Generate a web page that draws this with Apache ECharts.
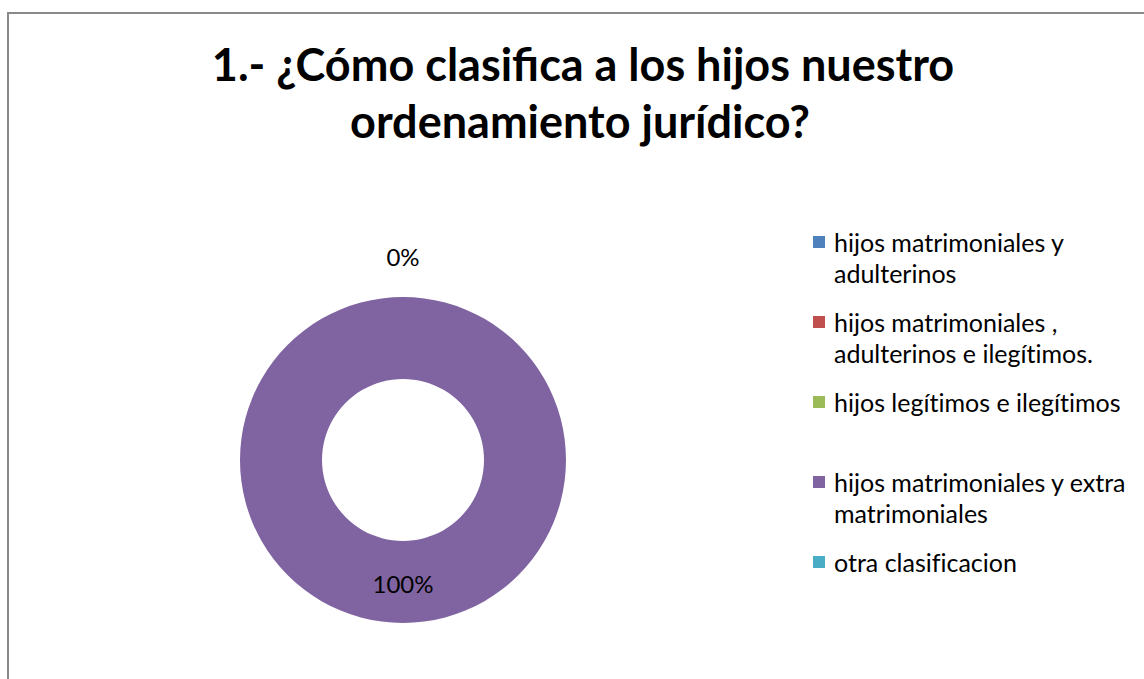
<!DOCTYPE html>
<html>
<head>
<meta charset="utf-8">
<script src="https://cdn.jsdelivr.net/npm/echarts@6/dist/echarts.min.js"></script>
<style>
  html, body { margin: 0; padding: 0; background: #ffffff; }
  #chart { width: 1144px; height: 679px; }
  #chart svg text { font-variant-ligatures: none; }
</style>
</head>
<body>
<div id="chart"></div>
<script>
// Survey question 1: answers and their share of responses (%)
const titleLines = ['1.- ¿Cómo clasifica a los hijos nuestro', 'ordenamiento jurídico?'];
const categories = [
  'hijos matrimoniales y adulterinos',
  'hijos matrimoniales , adulterinos e ilegítimos.',
  'hijos legítimos e ilegítimos',
  'hijos matrimoniales y extra matrimoniales',
  'otra clasificacion'
];
// how each legend entry wraps
const legendLines = [
  ['hijos matrimoniales y', 'adulterinos'],
  ['hijos matrimoniales ,', 'adulterinos e ilegítimos.'],
  ['hijos legítimos e ilegítimos'],
  ['hijos matrimoniales y extra', 'matrimoniales'],
  ['otra clasificacion']
];
const percentages = [0, 0, 0, 100, 0];
const palette = ['#4F81BD', '#C0504D', '#9BBB59', '#8064A2', '#4BACC6'];

const LEGEND_LH = 31;
const LEGEND_PITCH = 80;

const chart = echarts.init(document.getElementById('chart'), null, { renderer: 'svg' });

const pieData = categories.map((name, i) => ({
  name: name,
  value: percentages[i],
  label: { position: percentages[i] > 0 ? 'inside' : 'outside' }
}));

chart.setOption({
  animation: false,
  color: palette,
  graphic: [
    {
      type: 'rect',
      silent: true,
      shape: { x: 8, y: 13, width: 1300, height: 800 },
      style: { fill: 'none', stroke: '#898989', lineWidth: 2 }
    },
    {
      type: 'text',
      x: 583, y: 64,
      style: {
        text: titleLines[0],
        font: 'bold 45px Lato',
        fill: '#000000',
        align: 'center', verticalAlign: 'middle',
        textAlign: 'center', textVerticalAlign: 'middle'
      }
    },
    {
      type: 'text',
      x: 580, y: 121,
      style: {
        text: titleLines[1],
        font: 'bold 45px Lato',
        fill: '#000000',
        align: 'center', verticalAlign: 'middle',
        textAlign: 'center', textVerticalAlign: 'middle'
      }
    }
  ],
  legend: {
    orient: 'vertical',
    left: 813,
    top: 242 - 1.5 * LEGEND_LH,
    padding: 0,
    itemWidth: 12,
    itemHeight: 12,
    itemGap: LEGEND_PITCH - 3 * LEGEND_LH,
    icon: 'rect',
    selectedMode: false,
    data: categories,
    formatter: function (name) {
      const lines = legendLines[categories.indexOf(name)];
      // blank line above keeps the marker level with the first line
      return '\n' + lines[0] + '\n' + (lines[1] || '');
    },
    textStyle: {
      fontFamily: 'Lato',
      fontSize: 25,
      lineHeight: LEGEND_LH,
      color: '#000000',
      padding: [0, 0, 0, 4]
    }
  },
  series: [
    {
      type: 'pie',
      silent: true,
      center: [403, 460],
      radius: [81, 163],
      startAngle: 90,
      clockwise: true,
      avoidLabelOverlap: false,
      itemStyle: { borderWidth: 0 },
      emphasis: { disabled: true },
      label: {
        show: true,
        formatter: function (p) { return Math.round(p.percent) + '%'; },
        fontFamily: 'Lato',
        fontSize: 24,
        color: '#000000',
        distanceToLabelLine: 0
      },
      labelLine: { show: false, length: 39, length2: 0 },
      labelLayout: function () {
        return { align: 'center', dy: -2, hideOverlap: true };
      },
      data: pieData
    }
  ]
});
</script>
</body>
</html>
